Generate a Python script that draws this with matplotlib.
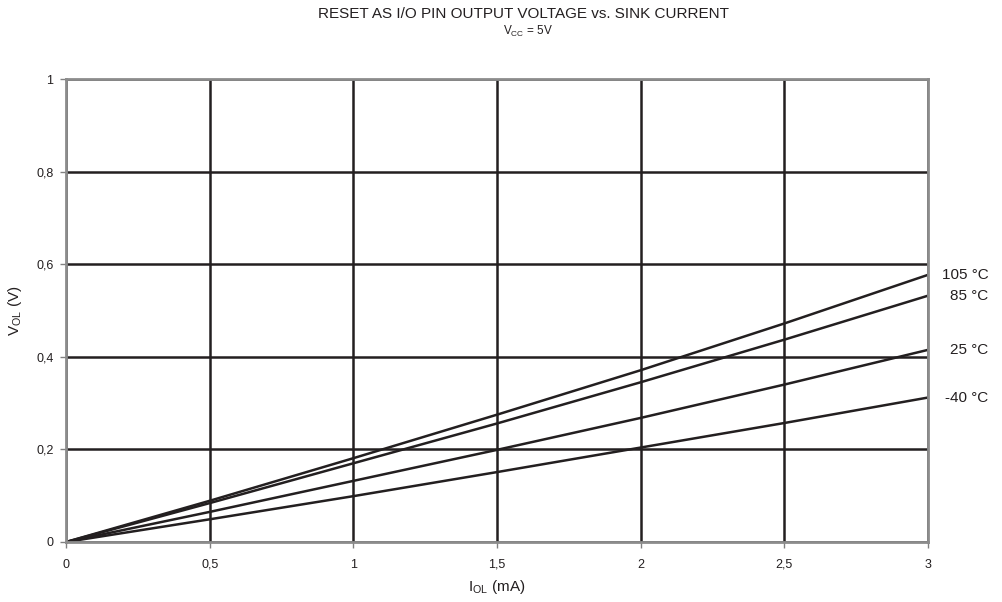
import matplotlib
matplotlib.use("Agg")
import matplotlib.pyplot as plt

plt.rcParams['font.family'] = ['Liberation Sans', 'DejaVu Sans']

current_ma = [0.0, 0.5, 1.0, 1.5, 2.0, 2.5, 3.0]
temps = ["105 °C", "85 °C", "25 °C", "-40 °C"]
vol = {
    "105 °C": [0.0, 0.089, 0.181, 0.275, 0.371, 0.472, 0.577],
    "85 °C": [0.0, 0.084, 0.170, 0.256, 0.345, 0.437, 0.532],
    "25 °C": [0.0, 0.065, 0.132, 0.199, 0.268, 0.340, 0.415],
    "-40 °C": [0.0, 0.049, 0.099, 0.151, 0.204, 0.257, 0.312],
}
xticks = [0, 0.5, 1, 1.5, 2, 2.5, 3]
xticklabels = ["0", "0,5", "1", "1,5", "2", "2,5", "3"]
yticks = [0, 0.2, 0.4, 0.6, 0.8, 1]
yticklabels = ["0", "0,2", "0,4", "0,6", "0,8", "1"]

TXT = '#231f20'
fig = plt.figure(figsize=(10.02, 6.02), dpi=100)
ax = fig.add_axes([66/1002, 1-542/602, (928-66)/1002, (542-79)/602])

for t in temps:
    ax.plot(current_ma, vol[t], color=TXT, lw=1.8, solid_capstyle='butt')
    ax.annotate(t, xy=(current_ma[-1], vol[t][-1]), xytext=(43.5, 0),
                textcoords='offset points', ha='right', va='center',
                fontsize=11, color=TXT, annotation_clip=False)

ax.set_xlim(0, 3)
ax.set_ylim(0, 1)
ax.set_xticks(xticks)
ax.set_xticklabels(xticklabels)
ax.set_yticks(yticks)
ax.set_yticklabels(yticklabels)
ax.tick_params(labelsize=9, colors=TXT, length=4, width=1, color='#808080')
ax.tick_params(axis='x', pad=8)
ax.tick_params(axis='y', pad=5)
ax.grid(True, color=TXT, lw=1.8)
ax.set_axisbelow(True)
for s in ax.spines.values():
    s.set_color('#8c8c8c')
    s.set_linewidth(2)

ax.set_xlabel(r'I$_{\mathregular{OL}}$ (mA)', fontsize=11, color=TXT, labelpad=5)
ax.set_ylabel(r'V$_{\mathregular{OL}}$ (V)', fontsize=11, color=TXT, labelpad=9)

fig.text(0.522, 1-14/602, 'RESET AS I/O PIN OUTPUT VOLTAGE vs. SINK CURRENT',
         ha='center', va='center', fontsize=11, color=TXT)
fig.text(0.527, 1-31/602, r'V$_{\mathregular{CC}}$ = 5V', ha='center', va='center',
         fontsize=8.5, color=TXT)

fig.savefig('out.png', dpi=100)
